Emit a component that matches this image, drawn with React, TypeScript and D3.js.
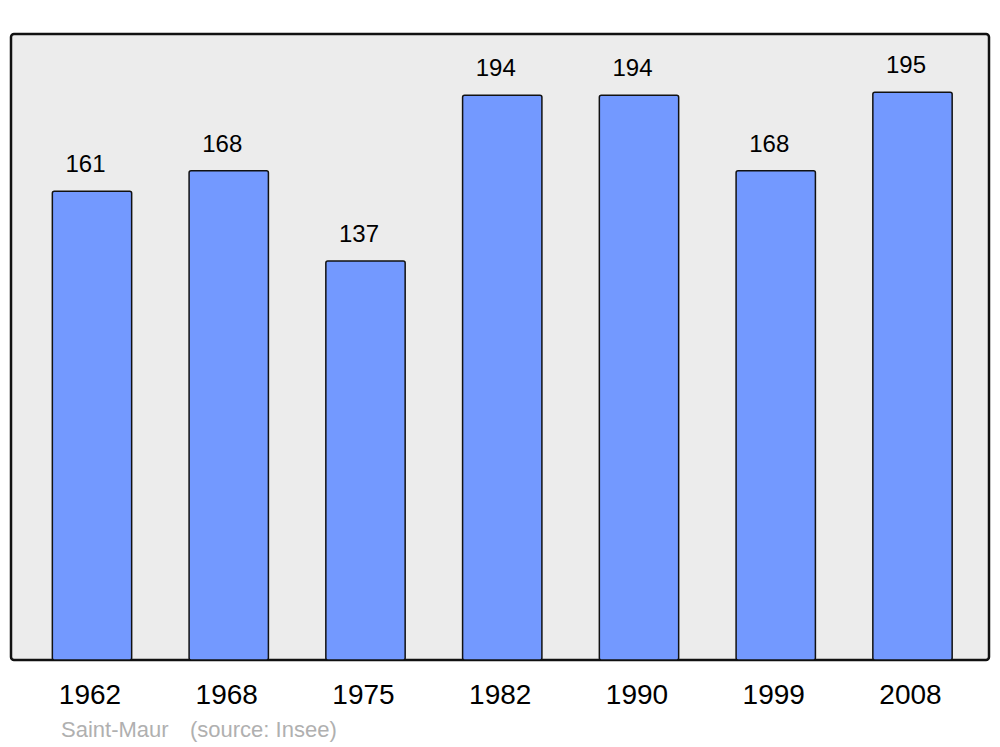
import React from "react";
import * as d3 from "d3";

const years = ["1962", "1968", "1975", "1982", "1990", "1999", "2008"];
const population = [161, 168, 137, 194, 194, 168, 195];
const caption = "Saint-Maur";
const source = "(source: Insee)";

const W = 1000;
const H = 747;
const frame = { left: 11, top: 34, right: 989, bottom: 660 };

export default function App() {
  const step = 136.75;
  const x = d3
    .scaleBand<string>()
    .domain(years)
    .range([92 - step / 2, 92 - step / 2 + step * years.length])
    .paddingInner(0.42)
    .paddingOuter(0.21);
  const y = d3.scaleLinear().domain([0, 215]).range([frame.bottom, frame.top]);
  const font = "'Liberation Sans', Arial, sans-serif";

  return (
    <svg
      width={W}
      height={H}
      style={{ position: "absolute", left: 0, top: 0 }}
      fontFamily={font}
    >
      <rect x={0} y={0} width={W} height={H} fill="#ffffff" />
      <rect
        x={frame.left}
        y={frame.top}
        width={frame.right - frame.left}
        height={frame.bottom - frame.top}
        rx={3}
        fill="#ececec"
        stroke="#111"
        strokeWidth={2.5}
      />
      {years.map((yr, i) => {
        const v = population[i];
        const bx = x(yr)!;
        const bw = x.bandwidth();
        return (
          <g key={yr}>
            <rect
              x={bx}
              y={y(v)}
              width={bw}
              height={frame.bottom - y(v)}
              rx={2}
              fill="#7399ff"
              stroke="#111"
              strokeWidth={1.5}
            />
            <text
              x={bx + bw / 2 - 6.5}
              y={y(v) - 19}
              textAnchor="middle"
              fontSize={24}
              fill="#000"
            >
              {v}
            </text>
            <text
              x={bx + bw / 2 - 2}
              y={704}
              textAnchor="middle"
              fontSize={28}
              fill="#000"
            >
              {yr}
            </text>
          </g>
        );
      })}
      <text x={61} y={737} fontSize={22} fill="#b0b0b0">
        {caption}
      </text>
      <text x={190} y={737} fontSize={22} fill="#b0b0b0">
        {source}
      </text>
    </svg>
  );
}
